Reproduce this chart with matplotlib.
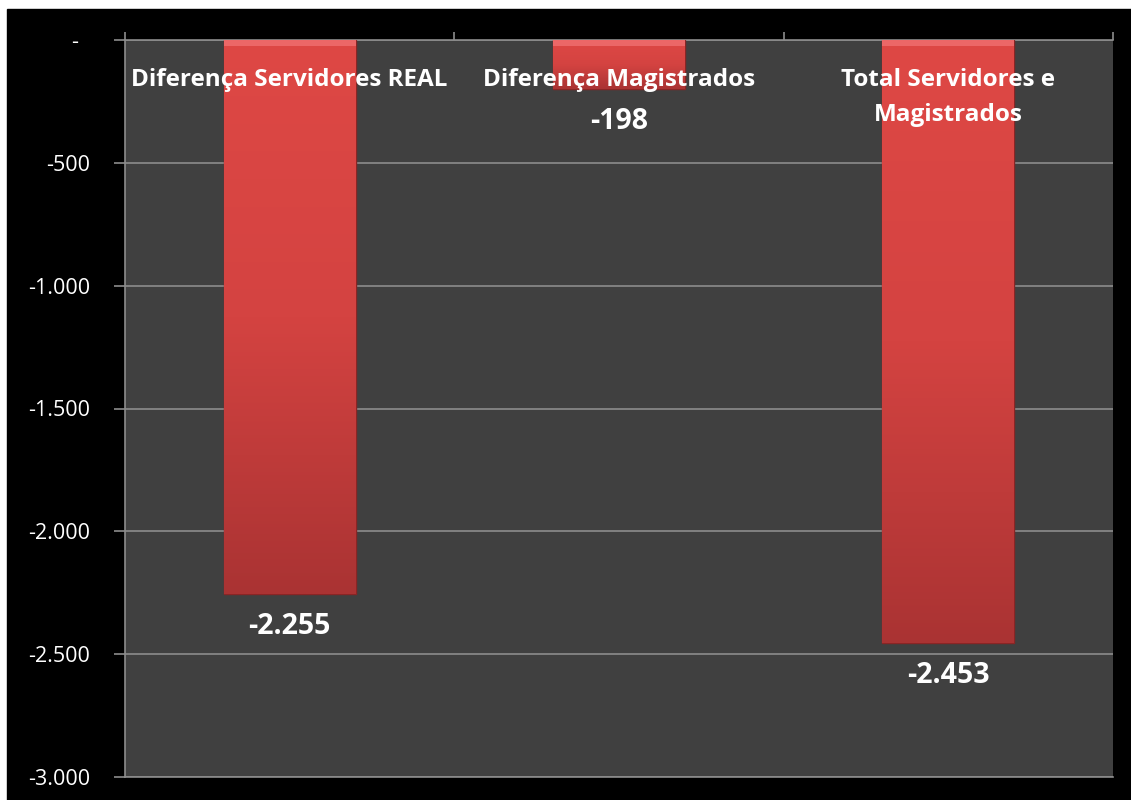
import numpy as np
import matplotlib.pyplot as plt
from matplotlib.ticker import FixedLocator
from matplotlib.colors import LinearSegmentedColormap

# dados
categorias = ["Diferença Servidores REAL", "Diferença Magistrados", "Total Servidores e\nMagistrados"]
valores = [-2255, -198, -2453]
rotulos = ["-2.255", "-198", "-2.453"]
yticks = [0, -500, -1000, -1500, -2000, -2500, -3000]
ytick_labels = ["-  ", "-500", "-1.000", "-1.500", "-2.000", "-2.500", "-3.000"]

plt.rcParams['font.family'] = ['Open Sans', 'DejaVu Sans']

fig = plt.figure(figsize=(11.31, 8), dpi=100, facecolor="white")
# fundo preto
fig.patches.append(plt.Rectangle((7 / 1131, 0), 1 - 7 / 1131, 1 - 9 / 800,
                                 transform=fig.transFigure, color="black", zorder=-1))
ax = fig.add_axes([125 / 1131, 1 - 777 / 800, (1113 - 125) / 1131, (777 - 40) / 800])
ax.set_facecolor("#404040")

x = np.arange(len(categorias))
largura = 0.4
bars = ax.bar(x, valores, width=largura, color="#c83c3a", edgecolor="#8a2525", linewidth=1, zorder=3)

# gradiente nas barras
grad = np.linspace(0, 1, 256).reshape(-1, 1)
cmap = LinearSegmentedColormap.from_list("verm", ["#de4845", "#d44341", "#aa3333"])
for b in bars:
    x0, w, h = b.get_x(), b.get_width(), b.get_height()
    im = ax.imshow(grad, cmap=cmap, aspect="auto", extent=(x0, x0 + w, h, 0), zorder=3.5)
    im.set_clip_path(b)
    # brilho no topo
    ax.fill_between([x0, x0 + w], 0, -25, color="#f07070", alpha=0.8, zorder=4, linewidth=0)

ax.set_xlim(-0.5, 2.5)
ax.set_ylim(-3000, 0)
ax.set_yticks(yticks)
ax.set_yticklabels(ytick_labels, color="white", fontsize=15.5)
ax.yaxis.grid(True, color="#8c8c8c", linewidth=1.2, zorder=1)
ax.set_axisbelow(True)

# eixo x no topo
ax.xaxis.set_ticks_position("top")
ax.xaxis.set_major_locator(FixedLocator([-0.5, 0.5, 1.5, 2.5]))
ax.set_xticklabels([])
ax.tick_params(axis="x", direction="out", length=6, color="#8c8c8c", width=1.2)
ax.tick_params(axis="y", direction="out", length=8, color="#8c8c8c", width=1.2, pad=17)

for s in ["left", "top", "bottom"]:
    ax.spines[s].set_color("#8c8c8c")
    ax.spines[s].set_linewidth(1.2)
ax.spines["right"].set_visible(False)

# rótulos das categorias
for i, c in enumerate(categorias):
    ax.text(i, -112, c, ha="center", va="top", color="white", fontsize=17.5,
            fontweight="bold", zorder=6, linespacing=1.62)

# rótulos dos valores
for i, (v, r) in enumerate(zip(valores, rotulos)):
    ax.text(i, v - 75, r, ha="center", va="top", color="white", fontsize=20.5,
            fontweight="bold", zorder=6)

fig.savefig("out.png", dpi=100, facecolor=fig.get_facecolor())
